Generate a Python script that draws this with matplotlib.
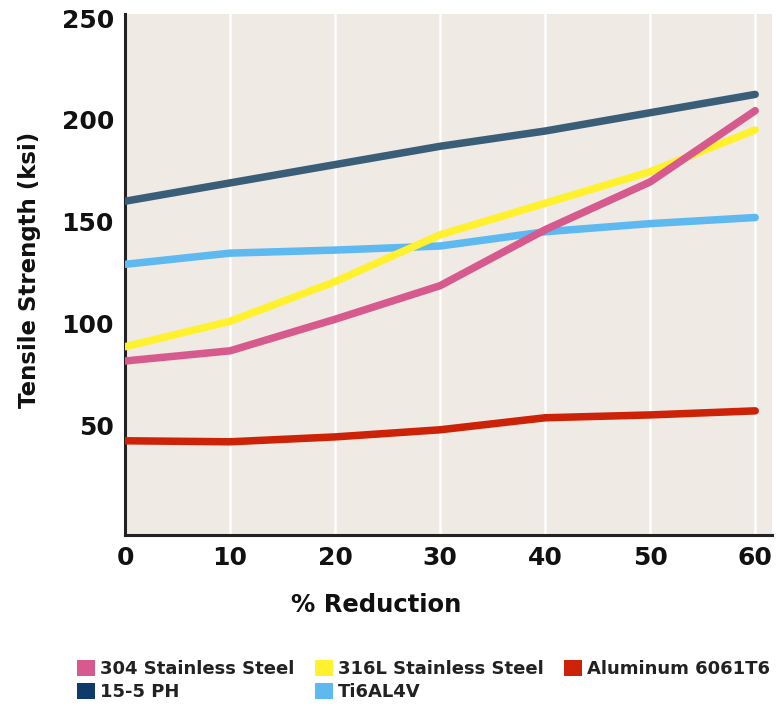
import matplotlib
matplotlib.use("Agg")
import matplotlib.pyplot as plt
from matplotlib.patches import Patch

# % reduction (cold work) and tensile strength in ksi
reduction = [0, 10, 20, 30, 40, 50, 60]
ss304 = [81.5, 86.5, 102, 118.5, 146, 169.5, 204.5]
ss316l = [88.5, 101, 120.5, 143.5, 159, 174.5, 195]
al6061 = [42.3, 41.8, 44.2, 47.7, 53.6, 55, 57]
ph155 = [160, 169, 178, 187, 194.5, 203.5, 212.5]
ti6al4v = [129, 134.5, 136, 138, 145, 149, 152]

series_names = ["304 Stainless Steel", "15-5 PH", "316L Stainless Steel",
                "Ti6AL4V", "Aluminum 6061T6"]
y_ticks = [50, 100, 150, 200, 250]
x_ticks = [0, 10, 20, 30, 40, 50, 60]

c304 = "#d65a8e"
c316 = "#fff12e"
cal = "#cc2208"
cph_line = "#3a5d78"
cph_key = "#0e3a6c"
cti = "#5db9f0"

fig = plt.figure(figsize=(7.82, 7.07), dpi=100)
W, H = 782, 707
ax = fig.add_axes([125 / W, 1 - 535 / H, (772 - 125) / W, (535 - 14) / H])
ax.set_facecolor("#efeae4")

for x in x_ticks[1:]:
    ax.axvline(x, color="white", lw=1.8, zorder=1)

lw = 5.4
ax.plot(reduction, al6061, color=cal, lw=lw, solid_capstyle="round", zorder=3)
ax.plot(reduction, ti6al4v, color=cti, lw=lw, solid_capstyle="round", zorder=3)
ax.plot(reduction, ss316l, color=c316, lw=lw, solid_capstyle="round", zorder=3)
ax.plot(reduction, ss304, color=c304, lw=lw, solid_capstyle="round", zorder=3)
ax.plot(reduction, ph155, color=cph_line, lw=lw, solid_capstyle="round", zorder=3)

ax.set_xlim(0, 61.6)
ax.set_ylim(-4, 252)
ax.set_xticks(x_ticks)
ax.set_yticks(y_ticks)
ax.tick_params(length=0, labelsize=18, pad=8)
for lab in ax.get_xticklabels() + ax.get_yticklabels():
    lab.set_fontweight("bold")
    lab.set_color("#111111")

for s in ("top", "right"):
    ax.spines[s].set_visible(False)
for s in ("left", "bottom"):
    ax.spines[s].set_color("#222222")
    ax.spines[s].set_linewidth(2.2)

fig.text(376 / W, 1 - 605 / H, "% Reduction", ha="center", va="center",
         fontsize=17.5, fontweight="bold", color="#111111")
fig.text(30 / W, 1 - 270 / H, "Tensile Strength (ksi)", ha="center",
         va="center", rotation=90, fontsize=16.5, fontweight="bold",
         color="#111111")

handles = [Patch(facecolor=c, edgecolor="none") for c in
           (c304, cph_key, c316, cti, cal)]
leg = fig.legend(handles, series_names, ncol=3, loc="upper left",
                 bbox_to_anchor=(68 / W, 1 - 651 / H), frameon=False,
                 prop={"size": 13, "weight": "bold"},
                 handlelength=1.0, handleheight=1.0, handletextpad=0.3,
                 columnspacing=1.1, labelspacing=0.25, borderpad=0)
for t in leg.get_texts():
    t.set_color("#222222")

fig.savefig("out.png", dpi=100, facecolor="white")
